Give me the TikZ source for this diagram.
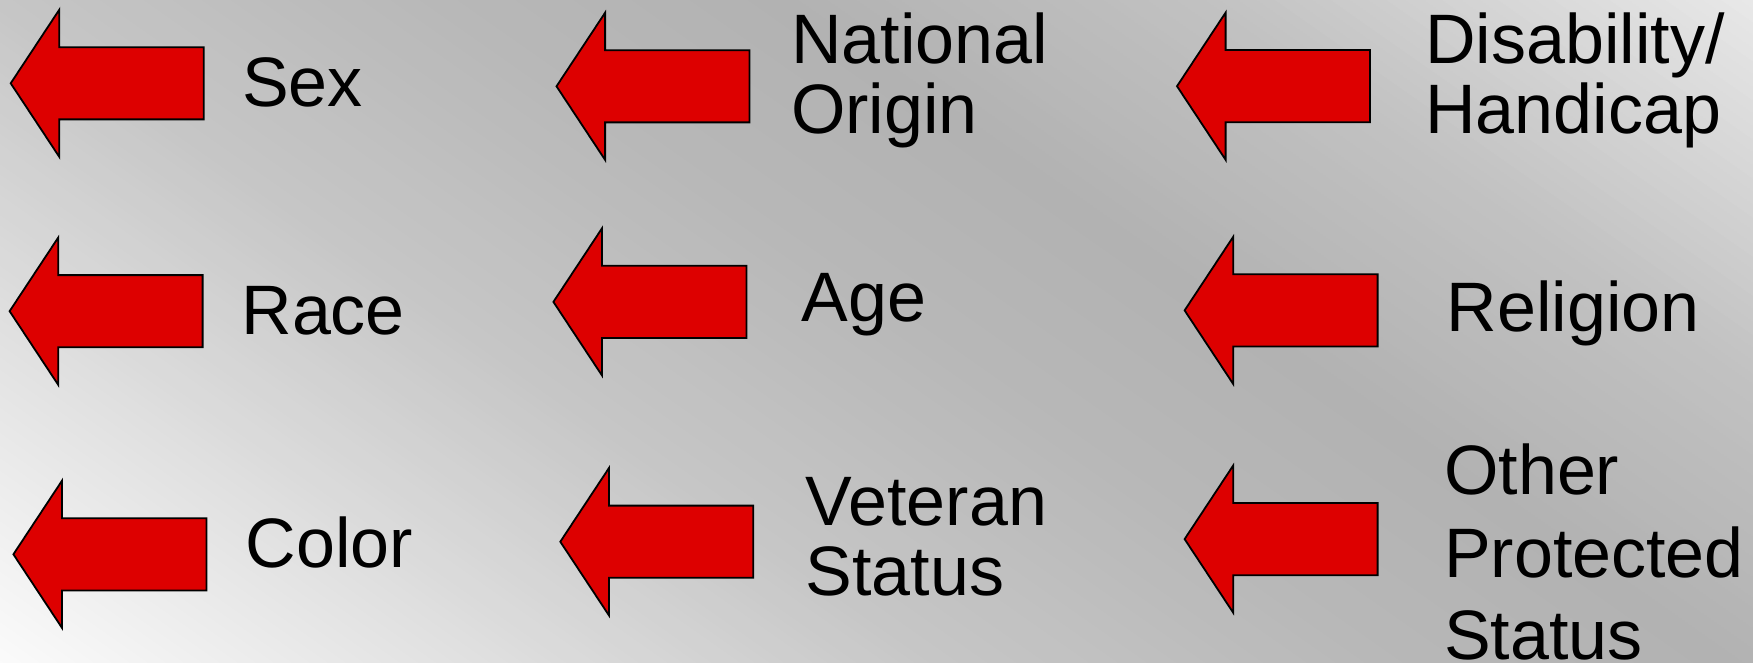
\documentclass[tikz,border=0pt]{standalone}
\usepackage{fontspec}
\setmainfont{Liberation Sans}
\definecolor{arrowred}{RGB}{221,0,0}
\tikzset{
  arrowshape/.style={draw=black, fill=arrowred, line width=1.8pt, line join=miter},
  lbl/.style={anchor=base west, inner sep=0pt, align=left, text=black,
    font={\fontsize{70}{70}\selectfont}},
  lblwide/.style={lbl, font={\fontsize{70}{82.5}\selectfont}},
  leftarrow/.pic={
    \path[arrowshape] (0,0) -- (48.6,-73.6) -- (48.6,-36.1) -- (193,-36.1)
      -- (193,36.1) -- (48.6,36.1) -- (48.6,73.6) -- cycle;
  }
}
\begin{document}
\begin{tikzpicture}[x=1pt, y=-1pt]
\useasboundingbox (0,0) rectangle (1753,663);
% background gradient
\begin{scope}
\clip (0,0) rectangle (1753,663);
\foreach \sa/\sb/\va/\vb in {-560/-250/253/222, -250/0/222/198, 0/250/198/184, 250/450/184/178, 450/700/178/194, 700/1020/194/234}{
  \foreach \i in {0,...,29}{
    \pgfmathsetmacro{\sz}{\sa+(\sb-\sa)*\i/30}
    \pgfmathsetmacro{\so}{\sa+(\sb-\sa)*(\i+1)/30}
    \pgfmathsetmacro{\gv}{(\va+(\vb-\va)*(\i+0.5)/30)/255}
    \definecolor{bgc}{gray}{\gv}
    \path[fill=bgc, draw=bgc, line width=1pt]
      ({0.574*(\sz)-1638},{-0.819*(\sz)-1148}) --
      ({0.574*(\sz)+1638},{-0.819*(\sz)+1148}) --
      ({0.574*(\so)+1638},{-0.819*(\so)+1148}) --
      ({0.574*(\so)-1638},{-0.819*(\so)-1148}) -- cycle;
  }
}
\end{scope}
% arrows
\pic at (10.7,83.3) {leftarrow};
\pic at (9.6,311.2) {leftarrow};
\pic at (13.4,554.3) {leftarrow};
\pic at (556.5,86.3) {leftarrow};
\pic at (553.4,301.9) {leftarrow};
\pic at (560.3,541.7) {leftarrow};
\pic at (1177,86.2) {leftarrow};
\pic at (1184.6,310.4) {leftarrow};
\pic at (1184.6,539.1) {leftarrow};
% labels (anchor on the baseline of the last line)
\node[lbl] (sex) at (242,106.5) {Sex};
\node[lbl] (race) at (241.3,334.9) {Race};
\node[lbl] (color) at (245.5,567.9) {Color};
\node[lbl] (natorig) at (791,133.3) {National\\Origin};
\node[lbl] (age) at (801.4,321.4) {Age};
\node[lbl] (veteran) at (805.5,595.0) {Veteran\\Status};
\node[lbl] (disab) at (1425.2,133.2) {Disability/\\Handicap};
\node[lbl] (religion) at (1446.4,331.9) {Religion};
\node[lblwide] (other) at (1444,659.6) {Other\\Protected\\Status};
\end{tikzpicture}
\end{document}
